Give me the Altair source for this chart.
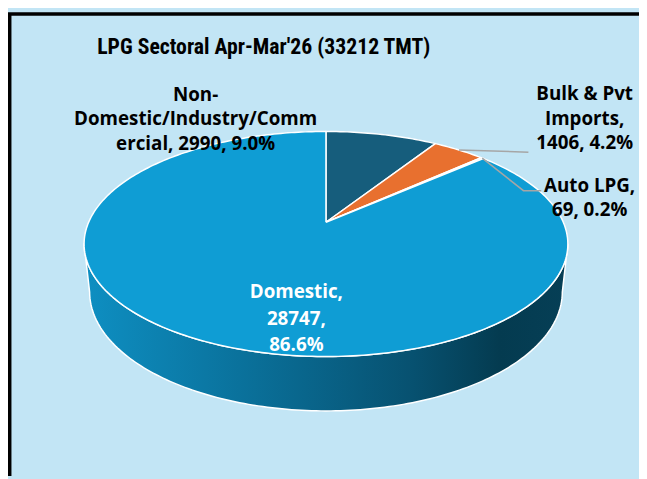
import math
import altair as alt
import pandas as pd

# ---------------- data ----------------
categories = ["Non-Domestic/Industry/Commercial", "Bulk & Pvt Imports", "Auto LPG", "Domestic"]
values = [2990, 1406, 69, 28747]
slice_colors = ["#165d7c", "#e8702f", "#a5a5a5", "#0f9dd4"]
title_text = "LPG Sectoral Apr-Mar'26 (33212 TMT)"
label_lines = [
    ["Non-", "Domestic/Industry/Comm", "ercial, 2990, 9.0%"],
    ["Bulk & Pvt", "Imports,", "1406, 4.2%"],
    ["Auto LPG,", "69, 0.2%"],
    ["Domestic,", "28747,", "86.6%"],
]
label_colors = ["black", "black", "black", "white"]

# ---------------- layout (screen px) ----------------
W, H = 639, 471
APEX = (330, 222)                      # screen position of pie centre
label_x = [198, 592, 597, 300]
label_y = [[93, 118, 143], [92, 117, 142], [185, 210], [293, 320, 346]]
leader_ends = {1: [(535, 151)], 2: [(530, 190), (548, 190)]}
title_pos = (267, 45)

# 3-D projection of the pie (tilt / perspective / thickness)
SA, CA, F, D, HT = 0.4565, 0.8897, 1108.0, 4.61, 0.228


def proj(theta_deg, h=0.0, r=1.0):
    t = math.radians(theta_deg)
    X, Z = r * math.sin(t), r * math.cos(t)
    yc = Z * SA - h * CA
    d = D + Z * CA + h * SA
    return F * X / d, F * yc / d


def to_off(p):
    return p[0] - APEX[0], APEX[1] - p[1]


total = sum(values)
starts, ends = [], []
acc = 0
for v in values:
    starts.append(acc / total * 360)
    acc += v
    ends.append(acc / total * 360)

# top face polygons
rows = []
for k, cat in enumerate(categories):
    a0, a1 = starts[k], ends[k]
    n = max(2, int((a1 - a0) / 1.0) + 1)
    pts = [(0.0, 0.0)] + [proj(a0 + (a1 - a0) * j / (n - 1)) for j in range(n)] + [(0.0, 0.0)]
    for i, (x, y) in enumerate(pts):
        rows.append({"slice": cat, "i": i, "x": x, "y": y})
top_df = pd.DataFrame(rows)

# side wall (front part, only Domestic is visible there)
wrows = []
th0, th1 = 101.0, 259.0
n = 160
top_rim = [proj(th0 + (th1 - th0) * j / n) for j in range(n + 1)]
bot_rim = [proj(th1 - (th1 - th0) * j / n, HT) for j in range(n + 1)]
wall_pts = top_rim + bot_rim + [top_rim[0]]
for i, (x, y) in enumerate(wall_pts):
    wrows.append({"i": i, "x": x, "y": y})
wall_df = pd.DataFrame(wrows)

# leader lines
lrows = []
for k, pts_end in leader_ends.items():
    mid = (starts[k] + ends[k]) / 2
    pts = [proj(mid)] + [to_off(p) for p in pts_end]
    for i, (x, y) in enumerate(pts):
        lrows.append({"line": k, "i": i, "x": x, "y": y})
lead_df = pd.DataFrame(lrows)

# labels
trows = []
for k, lines in enumerate(label_lines):
    for j, t in enumerate(lines):
        x, y = to_off((label_x[k], label_y[k][j]))
        trows.append({"text": t, "x": x, "y": y, "c": label_colors[k]})
text_df = pd.DataFrame(trows)
tx, ty = to_off(title_pos)
title_df = pd.DataFrame([{"text": title_text, "x": tx, "y": ty}])

xs = alt.Scale(domain=[8 - APEX[0], 8 + W - APEX[0]], nice=False, zero=False)
ys = alt.Scale(domain=[APEX[1] - 8 - H, APEX[1] - 8], nice=False, zero=False)
X = lambda: alt.X("x:Q", scale=xs, axis=None)
Y = lambda: alt.Y("y:Q", scale=ys, axis=None)

wall = alt.Chart(wall_df).mark_line(
    filled=True,
    fill=alt.Gradient(
        gradient="linear",
        stops=[
            alt.GradientStop(offset=0.0, color="#0e8fc2"),
            alt.GradientStop(offset=0.33, color="#0a719b"),
            alt.GradientStop(offset=0.68, color="#075170"),
            alt.GradientStop(offset=0.86, color="#043b50"),
            alt.GradientStop(offset=1.0, color="#063f56"),
        ],
        x1=0, x2=1, y1=0, y2=0,
    ),
    stroke="white", strokeWidth=1.5, strokeJoin="round",
).encode(x=X(), y=Y(), order="i:Q")

top = alt.Chart(top_df).mark_line(
    filled=True, stroke="white", strokeWidth=1.5, strokeJoin="round"
).encode(
    x=X(), y=Y(),
    color=alt.Color("slice:N", scale=alt.Scale(domain=categories, range=slice_colors), legend=None),
    order="i:Q",
)

leaders = alt.Chart(lead_df).mark_line(stroke="#a6a6a6", strokeWidth=1.5).encode(
    x=X(), y=Y(), detail="line:N", order="i:Q"
)

labels = alt.Chart(text_df).mark_text(
    font="Open Sans", fontWeight="bold", fontSize=19, align="center", baseline="middle"
).encode(x=X(), y=Y(), text="text:N", color=alt.Color("c:N", scale=None))

title = alt.Chart(title_df).mark_text(
    font="Liberation Sans Narrow, Roboto Condensed, Roboto", fontWeight="bold", fontSize=22,
    align="center", baseline="middle", color="black"
).encode(x=X(), y=Y(), text="text:N")

# chart frame: only its top and left edges fall inside the window
frame = alt.Chart(title_df).mark_rect(
    clip=True, filled=False, stroke="black", strokeWidth=3.5, fillOpacity=0
).encode(
    x=alt.value(1.75), x2=alt.value(W + 40), y=alt.value(3), y2=alt.value(H + 40)
)

chart = alt.layer(wall, top, leaders, labels, title, frame).properties(
    width=W, height=H, padding=0, background="#c2e5f5",
    autosize=alt.AutoSizeParams(type="none"),
).configure_view(strokeWidth=0)

chart.save("out.html", embed_options={"renderer": "svg", "actions": False})
